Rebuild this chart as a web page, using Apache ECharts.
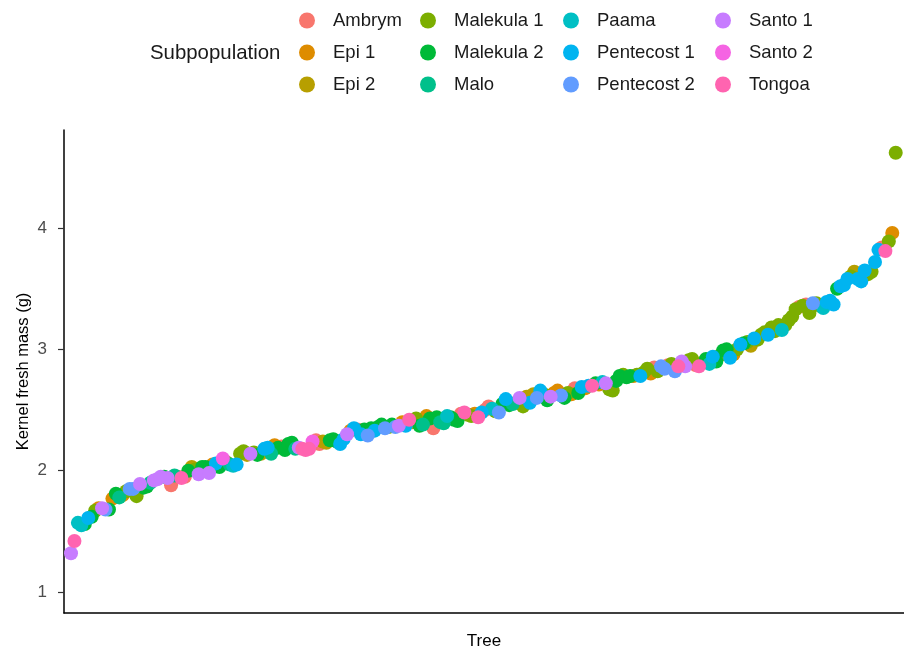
<!DOCTYPE html>
<html>
<head>
<meta charset="utf-8">
<script src="https://cdn.jsdelivr.net/npm/echarts@6/dist/echarts.min.js"></script>
<style>html,body{margin:0;padding:0;background:#fff}#c{width:904px;height:648px}</style>
</head>
<body>
<div id="c"></div>
<script>
const subpops = ['Ambrym','Epi 1','Epi 2','Malekula 1','Malekula 2','Malo','Paama','Pentecost 1','Pentecost 2','Santo 1','Santo 2','Tongoa'];
const colors = ['#F8766D','#DE8C00','#B79F00','#7CAE00','#00BA38','#00C08B','#00BFC4','#00B4F0','#619CFF','#C77CFF','#F564E3','#FF64B0'];
const yTicks = [1, 2, 3, 4];

// kernel fresh mass per tree, in tree order
const treeMass = [
  1.32,1.42,1.57,1.55,1.56,1.61,1.62,1.67,1.69,1.69,
  1.68,1.68,1.77,1.81,1.78,1.80,1.83,1.85,1.85,1.79,
  1.89,1.86,1.87,1.90,1.92,1.93,1.95,1.95,1.94,1.88,
  1.96,1.95,1.94,1.95,2.00,2.03,2.01,1.97,2.03,2.03,
  1.98,2.05,2.06,2.03,2.10,2.07,2.05,2.04,2.05,2.14,
  2.16,2.13,2.14,2.15,2.13,2.14,2.18,2.19,2.14,2.21,
  2.19,2.20,2.17,2.22,2.23,2.18,2.19,2.18,2.17,2.18,
  2.24,2.25,2.22,2.24,2.23,2.25,2.26,2.24,2.22,2.26,
  2.30,2.33,2.35,2.34,2.30,2.34,2.29,2.35,2.33,2.36,
  2.38,2.35,2.36,2.38,2.36,2.37,2.40,2.37,2.42,2.40,
  2.43,2.37,2.38,2.45,2.43,2.35,2.44,2.40,2.39,2.45,
  2.44,2.42,2.41,2.47,2.48,2.46,2.45,2.47,2.44,2.48,
  2.50,2.53,2.51,2.49,2.48,2.55,2.59,2.54,2.55,2.56,
  2.60,2.53,2.61,2.56,2.63,2.60,2.66,2.63,2.58,2.61,
  2.64,2.66,2.62,2.60,2.64,2.63,2.68,2.64,2.69,2.68,
  2.70,2.70,2.72,2.71,2.73,2.72,2.67,2.66,2.74,2.78,
  2.79,2.77,2.78,2.78,2.79,2.78,2.81,2.84,2.80,2.85,
  2.82,2.86,2.84,2.87,2.88,2.82,2.86,2.90,2.86,2.91,
  2.92,2.87,2.86,2.89,2.92,2.88,2.94,2.90,2.95,2.99,
  3.00,2.93,2.96,3.00,3.04,3.05,3.06,3.03,3.09,3.08,
  3.12,3.14,3.12,3.18,3.15,3.20,3.16,3.20,3.24,3.27,
  3.33,3.35,3.36,3.37,3.30,3.38,3.38,3.36,3.34,3.39,
  3.40,3.37,3.50,3.52,3.53,3.58,3.60,3.64,3.58,3.56,
  3.65,3.62,3.64,3.72,3.82,3.84,3.81,3.89,3.96,4.62
];

// subpopulation of each tree (index into subpops)
const treeGroup = [
  9,11,6,6,4,7,4,3,1,9,
  8,4,1,4,5,1,3,8,8,3,
  9,4,4,5,9,9,9,4,9,0,
  5,0,11,0,4,2,3,9,4,4,
  9,1,7,4,10,3,5,6,7,3,
  3,2,9,3,4,2,7,7,5,1,
  4,0,4,4,4,5,9,11,11,11,
  10,0,0,2,2,4,4,4,7,7,
  9,1,7,0,7,4,8,4,7,4,
  4,8,3,4,8,9,1,7,11,2,
  3,4,5,1,4,0,4,5,5,6,
  4,4,4,0,11,3,3,1,11,7,
  0,0,6,3,8,4,7,4,5,3,
  9,3,2,7,2,8,7,3,4,9,
  1,1,8,4,3,1,0,4,7,1,
  7,11,4,1,6,9,3,3,4,4,
  3,4,4,1,3,7,3,3,1,0,
  3,8,8,0,3,8,11,9,9,3,
  3,0,11,3,4,6,7,4,3,4,
  4,7,1,3,7,4,3,2,7,3,
  3,3,7,3,3,3,6,3,3,3,
  3,0,3,0,3,8,3,3,6,7,
  7,7,4,7,7,7,3,2,7,7,
  7,3,3,7,7,0,11,3,1,3
];

const FONT = 'Liberation Sans';
const series = subpops.map((name, g) => {
  const data = [];
  treeMass.forEach((v, i) => { if (treeGroup[i] === g) data.push([i + 1, v]); });
  return {
    name, type: 'scatter', data, symbolSize: 14,
    itemStyle: { color: colors[g], opacity: 1 },
    emphasis: { disabled: true }, z: 2
  };
});

const colX = [299, 420, 563, 715];
const legends = colX.map((x, c) => ({
  show: true, orient: 'vertical', left: x, top: 11,
  itemWidth: 16, itemHeight: 16, itemGap: 13, padding: 0,
  icon: 'circle', selectedMode: false,
  data: subpops.slice(c * 3, c * 3 + 3),
  textStyle: { fontFamily: FONT, fontSize: 18.5, color: '#1a1a1a', lineHeight: 16, padding: [0, 0, 0, 13] }
}));

const chart = echarts.init(document.getElementById('c'), null, { renderer: 'canvas' });
chart.setOption({
  animation: false,
  backgroundColor: '#fff',
  color: colors,
  title: {
    text: 'Subpopulation', left: 150, top: 43, padding: 0,
    textStyle: { fontFamily: FONT, fontSize: 20.4, fontWeight: 'normal', color: '#1a1a1a' }
  },
  legend: legends,
  grid: { left: 64, right: 0, top: 130, bottom: 35, containLabel: false, outerBoundsMode: 'none' },
  xAxis: {
    type: 'value', min: -1.03, max: 242.4,
    name: 'Tree', nameLocation: 'middle', nameGap: 20, nameMoveOverlap: false,
    nameTextStyle: { fontFamily: FONT, fontSize: 17, color: '#000' },
    axisLine: { show: true, onZero: false, lineStyle: { color: '#000', width: 1.5 } },
    axisTick: { show: false }, axisLabel: { show: false }, splitLine: { show: false }
  },
  yAxis: {
    type: 'value', min: 0.827, max: 4.808,
    name: 'Kernel fresh mass (g)', nameLocation: 'middle', nameGap: 32, nameMoveOverlap: false,
    nameTextStyle: { fontFamily: FONT, fontSize: 16.5, color: '#000' },
    axisLine: { show: true, onZero: false, lineStyle: { color: '#000', width: 1.5 } },
    axisTick: { show: true, length: 6, customValues: yTicks, lineStyle: { color: '#333', width: 1.2 } },
    axisLabel: { customValues: yTicks, fontFamily: FONT, fontSize: 17, color: '#4d4d4d', margin: 17 },
    splitLine: { show: false }
  },
  series
});
</script>
</body>
</html>
